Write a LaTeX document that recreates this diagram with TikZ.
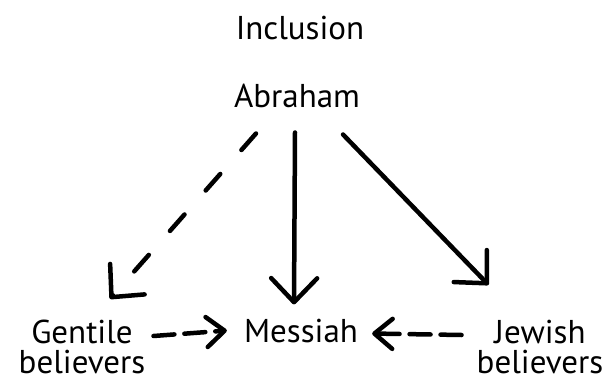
\documentclass[tikz,border=0pt]{standalone}
\usepackage{fontspec}
\setmainfont{PT Sans}
\usetikzlibrary{arrows.meta}
\begin{document}
\begin{tikzpicture}[x=1pt,y=-1pt,
  lbl/.style={inner sep=0pt,font=\fontsize{33}{30}\selectfont,align=center},
  pfeil/.style={line width=4.5pt,line cap=round,
    -{Straight Barb[length=24pt,width=46pt,line cap=round,round]}},
  strich/.style={pfeil,dash pattern=on 22pt off 32pt},
  kurz/.style={line width=4.5pt,line cap=round,dash pattern=on 21pt off 10pt,
    -{Straight Barb[length=18pt,width=30pt,line cap=round,round]}}]
\useasboundingbox (0,0) rectangle (614,383);
% Knoten
\node[lbl,anchor=base] (inc) at (300,39) {Inclusion};
\node[lbl,anchor=base] (abr) at (297,107) {Abraham};
\node[lbl,anchor=base] (mes) at (301,342) {Messiah};
\node[lbl] (gen) at (82,347) {Gentile\\believers};
\node[lbl] (jew) at (540,347) {Jewish\\believers};
% Pfeile von Abraham
\draw[strich] ([xshift=-41pt,yshift=-26pt]abr.south) -- ([xshift=28pt,yshift=21pt]gen.north);
\draw[pfeil] ([xshift=-2pt,yshift=-25pt]abr.south) -- ([xshift=-7pt,yshift=14pt]mes.north);
\draw[pfeil] ([xshift=46pt,yshift=-27pt]abr.south) -- ([xshift=12pt,yshift=35pt]jew.north west);
% Pfeile zum Messias
\draw[kurz] ([xshift=8pt,yshift=11pt]gen.east) -- ([xshift=-17pt]mes.west);
\draw[kurz] ([xshift=-15pt,yshift=12pt]jew.west) -- ([xshift=14pt,yshift=-3pt]mes.east);
\end{tikzpicture}
\end{document}
